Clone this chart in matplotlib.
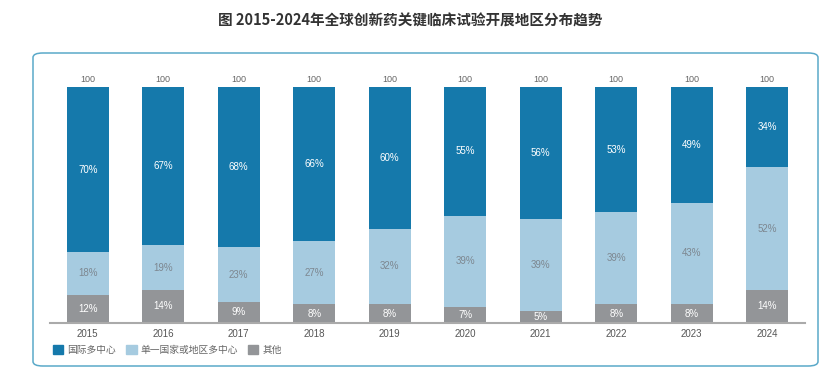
import numpy as np
import matplotlib.pyplot as plt
from matplotlib.patches import FancyBboxPatch, Patch

plt.rcParams['font.family'] = ['Noto Sans CJK SC', 'DejaVu Sans']
num_font = ['Liberation Sans', 'DejaVu Sans']

years = ['2015', '2016', '2017', '2018', '2019', '2020', '2021', '2022', '2023', '2024']
intl_multi = [70, 67, 68, 66, 60, 55, 56, 53, 49, 34]
single_multi = [18, 19, 23, 27, 32, 39, 39, 39, 43, 52]
other = [12, 14, 9, 8, 8, 7, 5, 8, 8, 14]
totals = [100] * len(years)
series_names = ['国际多中心', '单一国家或地区多中心', '其他']

c_dark = '#1579ab'
c_light = '#a6cbe0'
c_gray = '#939598'

fig = plt.figure(figsize=(8.21, 3.73), dpi=100)
fig.text(0.5, 0.945, '图 2015-2024年全球创新药关键临床试验开展地区分布趋势',
         ha='center', va='center', fontsize=10.5, fontweight='bold', color='#333333')

box = FancyBboxPatch((33 / 821, 7 / 373), 785 / 821, 313 / 373,
                     boxstyle='round,pad=0,rounding_size=0.012',
                     transform=fig.transFigure, fill=False,
                     edgecolor='#5aa9c9', linewidth=1.1)
fig.patches.append(box)

ax = fig.add_axes([50 / 821, 50 / 373, 755 / 821, 236 / 373])

x = np.arange(len(years))
o = np.array(other, float)
s = np.array(single_multi, float)
d = np.array(intl_multi, float)
scale = np.array(totals) / (o + s + d)
o_h, s_h, d_h = o * scale, s * scale, d * scale

w = 0.56
ax.bar(x, o_h, width=w, color=c_gray)
ax.bar(x, s_h, width=w, bottom=o_h, color=c_light)
ax.bar(x, d_h, width=w, bottom=o_h + s_h, color=c_dark)

for i in range(len(years)):
    ax.text(x[i], o_h[i] / 2, f'{other[i]}%', ha='center', va='center',
            fontsize=7, color='white', family=num_font)
    ax.text(x[i], o_h[i] + s_h[i] / 2, f'{single_multi[i]}%', ha='center', va='center',
            fontsize=7, color='#7d8790', family=num_font)
    ax.text(x[i], o_h[i] + s_h[i] + d_h[i] / 2, f'{intl_multi[i]}%', ha='center', va='center',
            fontsize=7, color='white', family=num_font)
    ax.text(x[i], totals[i] + 3, str(totals[i]), ha='center', va='center',
            fontsize=6.5, color='#666666', clip_on=False, family=num_font)

ax.set_xlim(-0.5, 9.5)
ax.set_ylim(0, 100)
ax.set_xticks(x, years)
ax.tick_params(axis='x', length=0, labelsize=7, labelcolor='#555555', pad=4)
for lab in ax.get_xticklabels():
    lab.set_family(num_font)
ax.set_yticks([])
for sp in ['top', 'right', 'left']:
    ax.spines[sp].set_visible(False)
ax.spines['bottom'].set_color('#aaaaaa')
ax.spines['bottom'].set_linewidth(1.5)

handles = [Patch(color=c_dark), Patch(color=c_light), Patch(color=c_gray)]
fig.legend(handles, series_names, loc='center left', bbox_to_anchor=(44 / 821, 23 / 373),
           ncol=3, frameon=False, fontsize=7, handlelength=1.1, handleheight=1.1,
           handletextpad=0.4, columnspacing=1.0, labelcolor='#666666')

fig.savefig('out.png', dpi=100)
